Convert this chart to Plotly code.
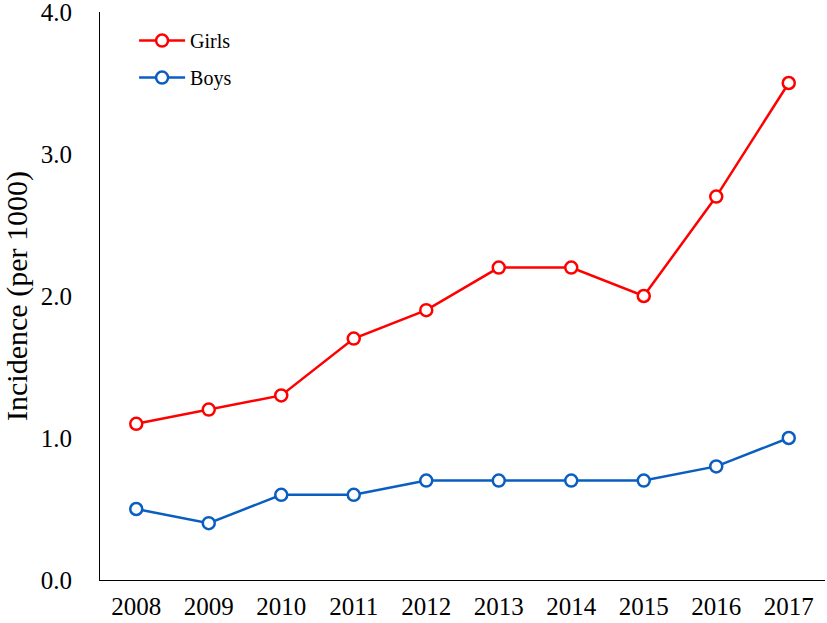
import plotly.graph_objects as go

years = ["2008", "2009", "2010", "2011", "2012", "2013", "2014", "2015", "2016", "2017"]
girls = [1.1, 1.2, 1.3, 1.7, 1.9, 2.2, 2.2, 2.0, 2.7, 3.5]
boys = [0.5, 0.4, 0.6, 0.6, 0.7, 0.7, 0.7, 0.7, 0.8, 1.0]
y_ticks = [0, 1, 2, 3, 4]
y_tick_labels = ["0.0", "1.0", "2.0", "3.0", "4.0"]

FONT = "Liberation Serif, Times New Roman, serif"
RED = "#FF0000"
BLUE = "#0A5EC0"

fig = go.Figure()
fig.add_trace(go.Scatter(
    x=years, y=girls, name="Girls", mode="lines+markers", legendgroup="g",
    line=dict(color=RED, width=2.5),
    marker=dict(symbol="circle", size=12, color="white", line=dict(color=RED, width=2.5)),
))
fig.add_trace(go.Scatter(
    x=years, y=boys, name="Boys", mode="lines+markers", legendgroup="b",
    line=dict(color=BLUE, width=2.5),
    marker=dict(symbol="circle", size=12, color="white", line=dict(color=BLUE, width=2.5)),
))

fig.update_layout(
    width=827, height=623,
    margin=dict(l=100, r=2, t=12, b=43, autoexpand=False),
    paper_bgcolor="white", plot_bgcolor="white",
    font=dict(family=FONT, color="black"),
    showlegend=True,
    legend=dict(
        x=0.047, y=0.984, xanchor="left", yanchor="top",
        font=dict(family=FONT, size=20, color="black"),
        bgcolor="rgba(0,0,0,0)", tracegroupgap=8,
        traceorder="grouped", itemwidth=46,
    ),
    xaxis=dict(
        type="category", range=[-0.5, 9.5],
        showline=True, linecolor="black", linewidth=1.2,
        showgrid=False, zeroline=False, ticks="",
        tickfont=dict(family=FONT, size=25, color="black"),
        ticklabelstandoff=4, automargin=False,
    ),
    yaxis=dict(
        range=[0, 4], tickvals=y_ticks, ticktext=y_tick_labels,
        showline=True, linecolor="black", linewidth=1.2,
        showgrid=False, zeroline=False, ticks="",
        tickfont=dict(family=FONT, size=25, color="black"),
        ticklabelstandoff=22, automargin=False, ticklabeloverflow="allow",
        title=dict(text="Incidence (per 1000)", font=dict(family=FONT, size=30, color="black"), standoff=10),
    ),
)

fig.write_html("out.html", config={"displayModeBar": False},
               post_script="document.body.style.margin='0';")
